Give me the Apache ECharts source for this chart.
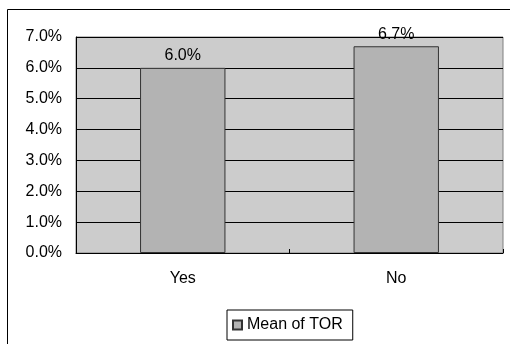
<!DOCTYPE html>
<html>
<head>
<meta charset="utf-8">
<script src="https://cdn.jsdelivr.net/npm/echarts@6/dist/echarts.min.js"></script>
<style>
  html, body { margin: 0; padding: 0; background: #ffffff; }
  #chart { width: 510px; height: 344px; }
</style>
</head>
<body>
<div id="chart"></div>
<script>
// Mean TOR by group, in percent
const categories = ['Yes', 'No'];
const meanTOR = [6.0, 6.7];
const seriesName = 'Mean of TOR';
const yTicks = { min: 0, max: 7, step: 1 };

const FONT = 'Liberation Sans, Arial, sans-serif';
const chart = echarts.init(document.getElementById('chart'), null, { renderer: 'canvas' });

chart.setOption({
  animation: false,
  backgroundColor: '#ffffff',
  textStyle: { fontFamily: FONT },
  graphic: [{
    // chart-area frame
    type: 'rect',
    shape: { x: 7.5, y: 9.5, width: 520, height: 360 },
    style: { fill: 'none', stroke: '#000000', lineWidth: 1 },
    silent: true,
    z: -1
  }],
  grid: {
    left: 76, right: 7, top: 37, bottom: 91,
    show: true,
    backgroundColor: '#cccccc',
    borderColor: '#808080',
    borderWidth: 1
  },
  legend: {
    left: 227, top: 310,
    data: [seriesName],
    icon: 'rect',
    itemWidth: 9, itemHeight: 9,
    itemGap: 4,
    padding: [7, 10, 7, 5],
    borderColor: '#000000',
    borderWidth: 1,
    textStyle: { fontFamily: FONT, fontSize: 16, color: '#000000', padding: [0, 0, 0, 0] }
  },
  xAxis: {
    type: 'category',
    data: categories,
    axisLine: { lineStyle: { color: '#000000', width: 1 } },
    axisTick: { show: true, inside: true, length: 4, alignWithLabel: false, lineStyle: { color: '#000000' } },
    axisLabel: { fontFamily: FONT, fontSize: 16, color: '#000000', margin: 18 },
    splitLine: { show: false }
  },
  yAxis: {
    type: 'value',
    min: yTicks.min, max: yTicks.max, interval: yTicks.step,
    axisLine: { show: true, lineStyle: { color: '#000000', width: 1 } },
    axisTick: { show: false },
    axisLabel: {
      fontFamily: FONT, fontSize: 16, color: '#000000', margin: 14,
      formatter: v => v.toFixed(1) + '%'
    },
    splitLine: { show: true, lineStyle: { color: '#000000', width: 1 } }
  },
  series: [{
    name: seriesName,
    type: 'bar',
    data: meanTOR,
    barWidth: '40%',
    itemStyle: { color: '#b3b3b3', borderColor: '#333333', borderWidth: 1 },
    label: {
      show: true, position: 'top', distance: 4,
      fontFamily: FONT, fontSize: 16, color: '#000000',
      formatter: p => p.value.toFixed(1) + '%'
    }
  }]
});
</script>
</body>
</html>
